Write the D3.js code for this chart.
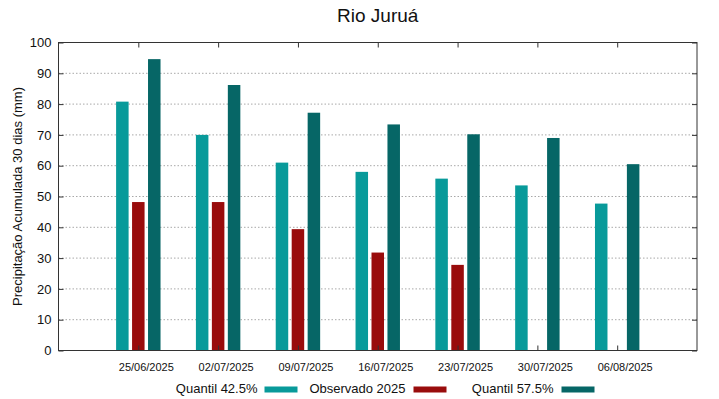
<!DOCTYPE html>
<html>
<head>
<meta charset="utf-8">
<script src="https://cdn.jsdelivr.net/npm/d3@7"></script>
<style>
  body { margin: 0; background: #fff; }
  text { font-family: "Liberation Sans", Arial, sans-serif; fill: #111; }
</style>
</head>
<body>
<div id="chart"></div>
<script>
var dates = ['25/06/2025', '02/07/2025', '09/07/2025', '16/07/2025', '23/07/2025', '30/07/2025', '06/08/2025'];
var quantil425 = [80.8, 70.0, 61.0, 58.0, 55.8, 53.6, 47.7];
var observado = [48.2, 48.2, 39.4, 31.8, 27.8, null, null];
var quantil575 = [94.6, 86.2, 77.2, 73.4, 70.2, 69.0, 60.5];
var yTicks = [0, 10, 20, 30, 40, 50, 60, 70, 80, 90, 100];

var W = 719, H = 399,
    LEFT = 58.5, RIGHT = 697, TOP = 42.5, BOTTOM = 350.5,
    BAR_W = 12.5,
    OFFSET = 0.2; // in category units

var series = [
  { name: 'Quantil 42.5%', values: quantil425, color: '#089a9a', shift: -OFFSET },
  { name: 'Observado 2025', values: observado, color: '#990c0c', shift: 0 },
  { name: 'Quantil 57.5%', values: quantil575, color: '#066666', shift: OFFSET }
];

var svg = d3.select('#chart').append('svg')
  .attr('width', W)
  .attr('height', H);

var x = d3.scaleLinear().domain([-1, dates.length]).range([LEFT, RIGHT]);
var y = d3.scaleLinear().domain([0, 100]).range([BOTTOM, TOP]);

// grid
svg.append('g')
  .selectAll('line')
  .data(yTicks.slice(1, -1))
  .enter()
  .append('line')
  .attr('x1', LEFT).attr('x2', RIGHT)
  .attr('y1', function(d) { return y(d); })
  .attr('y2', function(d) { return y(d); })
  .attr('stroke', '#a8a8a8')
  .attr('stroke-width', 1)
  .attr('stroke-dasharray', '1.5,2');

// bars
series.forEach(function(s) {
  svg.append('g')
    .selectAll('rect')
    .data(s.values.map(function(v, i) { return { i: i, v: v }; }).filter(function(d) { return d.v !== null; }))
    .enter()
    .append('rect')
    .attr('x', function(d) { return x(d.i + s.shift) - BAR_W / 2; })
    .attr('y', function(d) { return y(d.v); })
    .attr('width', BAR_W)
    .attr('height', function(d) { return y(0) - y(d.v); })
    .style('fill', s.color);
});

// axes
var yLeft = d3.axisLeft(y).tickValues(yTicks).tickSize(-5).tickPadding(7);
var yRight = d3.axisRight(y).tickValues(yTicks).tickSize(-5).tickFormat('');
var xBottom = d3.axisBottom(x).tickValues(d3.range(dates.length))
  .tickFormat(function(i) { return dates[i]; }).tickSize(-5).tickPadding(13);
var xTop = d3.axisTop(x).tickValues(d3.range(dates.length)).tickSize(-5).tickFormat('');

function styleAxis(g, fontSize) {
  g.select('.domain').remove();
  g.selectAll('line').attr('stroke', '#333');
  g.selectAll('text')
    .style('font-family', '"Liberation Sans", Arial, sans-serif')
    .style('font-size', fontSize)
    .attr('fill', '#111');
}

svg.append('g').attr('transform', 'translate(' + LEFT + ',0)').call(yLeft).call(styleAxis, '13px');
svg.append('g').attr('transform', 'translate(' + RIGHT + ',0)').call(yRight).call(styleAxis, '13px');
var xAxisG = svg.append('g').attr('transform', 'translate(0,' + BOTTOM + ')').call(xBottom).call(styleAxis, '11px');
// date labels sit a little right of their ticks, as in the original
xAxisG.selectAll('text').attr('dx', 7.5);
svg.append('g').attr('transform', 'translate(0,' + TOP + ')').call(xTop).call(styleAxis, '11px');

// border
svg.append('rect')
  .attr('x', LEFT).attr('y', TOP)
  .attr('width', RIGHT - LEFT).attr('height', BOTTOM - TOP)
  .attr('fill', 'none')
  .attr('stroke', '#333')
  .attr('stroke-width', 1);

// title
svg.append('text')
  .attr('x', (LEFT + RIGHT) / 2)
  .attr('y', 22)
  .attr('text-anchor', 'middle')
  .style('font-size', '19px')
  .text('Rio Juruá');

// y label
svg.append('text')
  .attr('transform', 'translate(22,' + ((TOP + BOTTOM) / 2) + ') rotate(-90)')
  .attr('text-anchor', 'middle')
  .style('font-size', '13px')
  .text('Precipitação Acumulada 30 dias (mm)');

// legend
var legendItems = [
  { textEnd: 257.5, swatch: 264.5 },
  { textEnd: 405.5, swatch: 413.5 },
  { textEnd: 553.5, swatch: 561.5 }
];
var LEGEND_Y = 388;
series.forEach(function(s, i) {
  var it = legendItems[i];
  svg.append('text')
    .attr('x', it.textEnd)
    .attr('y', LEGEND_Y)
    .attr('dy', '0.35em')
    .attr('text-anchor', 'end')
    .style('font-size', '13px')
    .text(s.name);
  svg.append('rect')
    .attr('x', it.swatch)
    .attr('y', LEGEND_Y - 1.5)
    .attr('width', 33)
    .attr('height', 6)
    .style('fill', s.color);
});
</script>
</body>
</html>
